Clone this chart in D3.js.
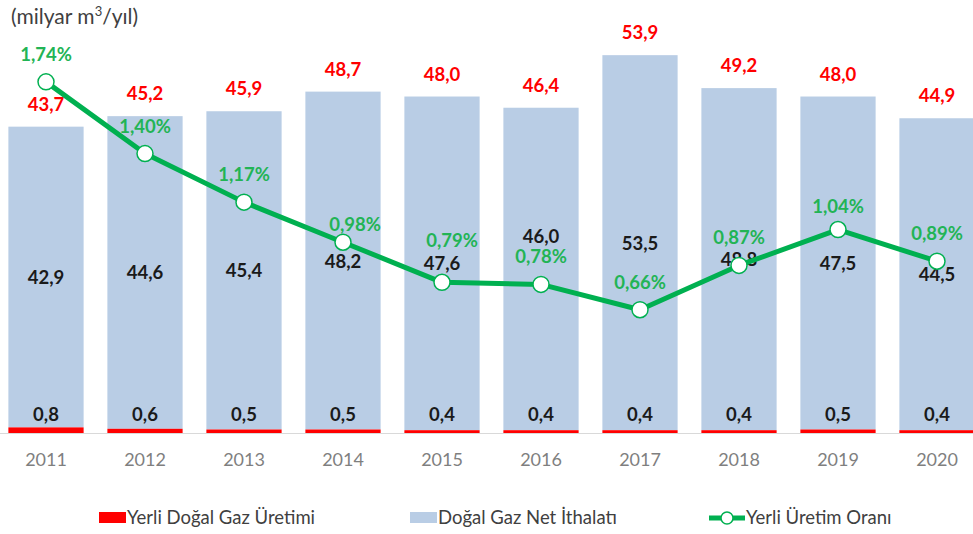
<!DOCTYPE html>
<html>
<head>
<meta charset="utf-8">
<script src="https://cdn.jsdelivr.net/npm/d3@7"></script>
<style>
  body { margin: 0; background: #fff; }
  svg { display: block; font-family: Lato, "Noto Sans", sans-serif; }
</style>
</head>
<body>
<svg id="chart" width="973" height="534"></svg>
<script>
const years = ["2011", "2012", "2013", "2014", "2015", "2016", "2017", "2018", "2019", "2020"];
const production = [0.8, 0.6, 0.5, 0.5, 0.4, 0.4, 0.4, 0.4, 0.5, 0.4];
const imports = [42.9, 44.6, 45.4, 48.2, 47.6, 46.0, 53.5, 48.8, 47.5, 44.5];
const ratio = [1.74, 1.40, 1.17, 0.98, 0.79, 0.78, 0.66, 0.87, 1.04, 0.89];

const fmt = (v, d) => v.toFixed(d).replace(".", ",");

let svg = d3.select("#chart");
let baseY = 433;

let x = d3.scaleBand()
    .domain(years)
    .range([-3.5, 986.5])
    .paddingInner(0.24)
    .paddingOuter(0.12);

let y = d3.scaleLinear().domain([0, 60]).range([baseY, baseY - 60 * 7.01]);
// secondary axis for the ratio (hidden in the original)
let y2 = d3.scaleLinear().domain([0, 2]).range([449, 27]);

let data = years.map((yr, i) => ({
    year: yr, prod: production[i], imp: imports[i], total: production[i] + imports[i], ratio: ratio[i]
}));

// bars
let bars = svg.append("g");
bars.selectAll(".imp").data(data).join("rect")
    .attr("class", "imp")
    .attr("x", d => x(d.year))
    .attr("width", x.bandwidth())
    .attr("y", d => y(d.total))
    .attr("height", d => y(d.prod) - y(d.total))
    .attr("fill", "#b9cde5");
bars.selectAll(".prod").data(data).join("rect")
    .attr("class", "prod")
    .attr("x", d => x(d.year))
    .attr("width", x.bandwidth())
    .attr("y", d => y(d.prod))
    .attr("height", d => y(0) - y(d.prod))
    .attr("fill", "#ff0000");

// x axis
let xAxis = d3.axisBottom(x).tickSize(0).tickPadding(22);
let axisG = svg.append("g").attr("transform", `translate(0,${baseY})`).call(xAxis);
axisG.select(".domain").attr("stroke", "#d9d9d9").attr("d", "M0,0.5H973");
axisG.selectAll("text")
    .attr("fill", "#7f7f7f")
    .attr("font-size", 18)
    .attr("dy", "0.6em")
    .attr("font-family", "Lato, 'Noto Sans', sans-serif");

let labels = svg.append("g").attr("font-weight", "bold").attr("font-size", 18.5).attr("text-anchor", "middle");

// totals
labels.selectAll(".tot").data(data).join("text")
    .attr("x", d => x(d.year) + x.bandwidth() / 2)
    .attr("y", d => y(d.total) - 16)
    .attr("fill", "#ff0000")
    .text(d => fmt(d.total, 1));

// imports (2016 label was nudged up in the original)
labels.selectAll(".impl").data(data).join("text")
    .attr("x", d => x(d.year) + x.bandwidth() / 2)
    .attr("y", (d, i) => (y(d.total) + y(d.prod)) / 2 + 7 + (i === 5 ? -33 : 0))
    .attr("fill", "#1a1a1a")
    .text(d => fmt(d.imp, 1));

// production
labels.selectAll(".prodl").data(data).join("text")
    .attr("x", d => x(d.year) + x.bandwidth() / 2)
    .attr("y", baseY - 12)
    .attr("fill", "#1a1a1a")
    .text(d => fmt(d.prod, 1));

// ratio line
let cx = d => x(d.year) + x.bandwidth() / 2;
svg.append("path")
    .datum(data)
    .attr("fill", "none")
    .attr("stroke", "#00b050")
    .attr("stroke-width", 5)
    .attr("stroke-linejoin", "round")
    .attr("d", d3.line().x(cx).y(d => y2(d.ratio)));
svg.append("g").selectAll("circle").data(data).join("circle")
    .attr("cx", cx)
    .attr("cy", d => y2(d.ratio))
    .attr("r", 8)
    .attr("fill", "#fff")
    .attr("stroke", "#00b050")
    .attr("stroke-width", 1.5);

// some percent labels were dragged by hand in the original
let pctNudge = { 3: [12, 10], 4: [10, -14], 8: [0, 4] };
labels.selectAll(".pct").data(data).join("text")
    .attr("x", (d, i) => cx(d) + (pctNudge[i] ? pctNudge[i][0] : 0))
    .attr("y", (d, i) => y2(d.ratio) - 21 + (pctNudge[i] ? pctNudge[i][1] : 0))
    .attr("fill", "#22b455")
    .text(d => fmt(d.ratio, 2) + "%");

// unit title
let title = svg.append("text").attr("x", 11).attr("y", 24).attr("font-size", 21).attr("fill", "#404040");
title.append("tspan").text("(milyar m");
title.append("tspan").attr("font-size", 13).attr("dy", -8).text("3");
title.append("tspan").attr("dy", 8).text("/yıl)");

// legend
let legend = svg.append("g").attr("font-size", 18.5).attr("fill", "#404040");
let lg1 = legend.append("g").attr("transform", "translate(99,518)");
lg1.append("rect").attr("x", 0).attr("y", -6).attr("width", 27).attr("height", 11).attr("fill", "#ff0000");
lg1.append("text").attr("x", 28).attr("y", 6).text("Yerli Doğal Gaz Üretimi");
let lg2 = legend.append("g").attr("transform", "translate(410,518)");
lg2.append("rect").attr("x", 0).attr("y", -6).attr("width", 27).attr("height", 11).attr("fill", "#b9cde5");
lg2.append("text").attr("x", 28).attr("y", 6).text("Doğal Gaz Net İthalatı");
let lg3 = legend.append("g").attr("transform", "translate(709,518)");
lg3.append("line").attr("x1", 0).attr("x2", 36).attr("y1", 0).attr("y2", 0).attr("stroke", "#00b050").attr("stroke-width", 5);
lg3.append("circle").attr("cx", 18).attr("cy", 0).attr("r", 6).attr("fill", "#fff").attr("stroke", "#00b050").attr("stroke-width", 1.5);
lg3.append("text").attr("x", 37).attr("y", 6).text("Yerli Üretim Oranı");
</script>
</body>
</html>
